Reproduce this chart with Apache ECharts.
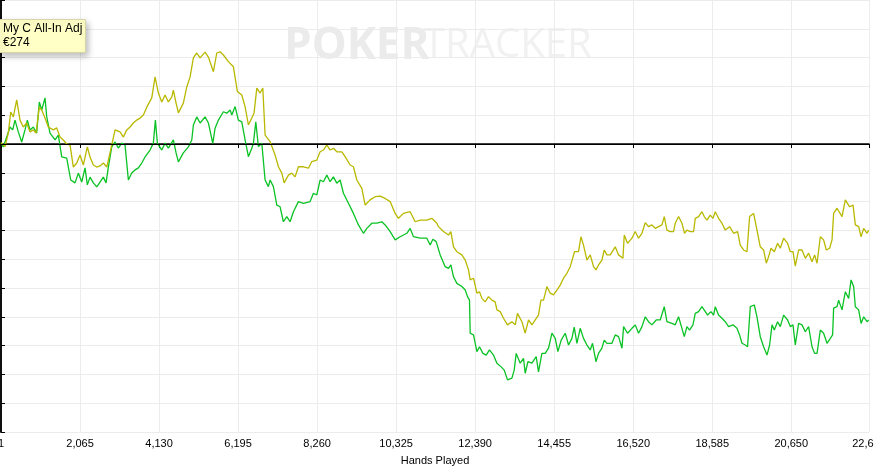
<!DOCTYPE html>
<html>
<head>
<meta charset="utf-8">
<script src="https://cdn.jsdelivr.net/npm/echarts@6/dist/echarts.min.js"></script>
<style>
html,body{margin:0;padding:0;background:#fff;}
#c{width:874px;height:467px;}
</style>
</head>
<body>
<div id="c"></div>
<script>
// X axis
const handsMax = 22681;
const handsStep = 2065;
// All-In Adjusted winnings (yellow)
const allinHands = [0,105,191,254,322,410,497,583,672,758,844,915,1001,1064,1150,1236,1367,1456,1542,1629,1717,1804,1890,1979,2065,2151,2256,2326,2413,2502,2588,2674,2763,2849,2980,3111,3197,3286,3372,3458,3547,3634,3720,3809,3939,4026,4112,4201,4287,4373,4462,4504,4575,4635,4765,4854,4941,5027,5116,5202,5333,5419,5550,5638,5725,5811,5942,6073,6177,6292,6378,6465,6553,6613,6684,6770,6841,6901,7032,7162,7249,7338,7398,7510,7599,7685,7771,7902,8033,8122,8252,8339,8425,8514,8600,8686,8775,8906,8992,9123,9209,9298,9429,9515,9646,9776,9907,10038,10169,10299,10385,10516,10691,10822,10953,11128,11258,11389,11431,11562,11693,11755,11824,11912,12043,12130,12216,12260,12347,12435,12503,12566,12652,12738,12827,12913,12958,13044,13130,13235,13350,13436,13496,13611,13697,13784,13873,13959,14045,14108,14176,14265,14351,14437,14526,14612,14699,14788,14874,14986,15091,15154,15221,15310,15397,15483,15546,15614,15702,15763,15833,15920,16050,16137,16252,16286,16372,16487,16573,16659,16748,16834,16920,17009,17096,17182,17271,17331,17401,17487,17574,17618,17705,17793,17861,17924,18010,18097,18141,18228,18316,18376,18447,18533,18604,18664,18750,18839,18925,19038,19143,19247,19317,19404,19493,19561,19665,19736,19840,19927,19997,20058,20120,20207,20293,20363,20450,20554,20625,20695,20755,20842,20931,21017,21103,21192,21260,21323,21409,21495,21566,21652,21715,21757,21845,21887,21976,22062,22175,22264,22324,22411,22474,22542,22630,22672];
const allinValues = [5,-9,38,111,94,153,83,59,73,42,49,38,128,118,90,59,49,56,24,14,0,-3,-80,-66,-38,-73,-10,-45,-73,-80,-76,-66,-80,-31,49,42,24,49,59,73,83,90,101,128,160,233,177,146,170,146,163,187,142,108,142,198,233,299,316,299,319,302,251,316,320,309,286,268,182,170,130,66,90,108,194,177,194,31,8,-38,-79,-101,-135,-108,-101,-114,-79,-79,-84,-61,-56,-27,-21,-3,-21,-15,-27,-27,-44,-73,-79,-125,-154,-212,-194,-183,-181,-189,-200,-241,-258,-241,-235,-270,-264,-264,-258,-275,-287,-304,-316,-304,-357,-374,-385,-403,-437,-472,-466,-518,-513,-536,-548,-530,-542,-548,-576,-582,-605,-628,-617,-628,-588,-617,-657,-611,-628,-611,-594,-542,-542,-495,-518,-524,-507,-490,-466,-449,-426,-374,-374,-322,-351,-403,-385,-426,-437,-420,-403,-368,-385,-385,-357,-385,-397,-316,-345,-327,-304,-327,-310,-273,-287,-281,-293,-287,-281,-252,-299,-304,-304,-275,-252,-275,-310,-299,-304,-304,-258,-252,-235,-252,-264,-247,-258,-235,-258,-275,-299,-287,-310,-304,-351,-368,-374,-252,-241,-287,-357,-368,-414,-391,-362,-374,-345,-362,-327,-345,-374,-374,-424,-368,-368,-397,-379,-409,-385,-414,-322,-333,-368,-362,-333,-241,-223,-218,-252,-194,-218,-212,-281,-287,-322,-293,-310,-299];
// Actual winnings (green)
const wonHands = [0,60,149,235,306,366,452,541,627,688,758,844,933,1001,1064,1150,1195,1281,1412,1498,1587,1717,1822,1934,2021,2110,2196,2256,2326,2413,2502,2588,2674,2745,2805,2894,2980,3066,3155,3241,3328,3416,3503,3589,3678,3764,3895,3981,4034,4086,4201,4287,4373,4504,4575,4635,4765,4896,4985,5027,5116,5202,5333,5419,5534,5594,5681,5811,5900,5986,6031,6117,6203,6292,6378,6465,6553,6595,6658,6726,6815,6901,6987,7032,7118,7207,7293,7379,7468,7554,7641,7771,7902,8077,8164,8252,8339,8425,8514,8600,8686,8775,8861,8948,9079,9209,9340,9471,9559,9690,9820,9951,10038,10169,10299,10430,10605,10691,10778,10953,11128,11214,11285,11371,11476,11607,11693,11755,11824,11912,12043,12130,12190,12242,12260,12347,12435,12503,12592,12679,12764,12869,12958,13062,13149,13235,13350,13410,13462,13567,13653,13697,13768,13873,13985,14045,14134,14220,14307,14396,14482,14552,14638,14743,14830,14918,14978,15049,15135,15221,15310,15397,15457,15546,15614,15702,15763,15833,15964,16050,16137,16226,16268,16372,16487,16573,16659,16748,16834,16920,17009,17121,17226,17331,17401,17532,17618,17705,17793,17854,17924,17992,18081,18141,18228,18316,18403,18463,18552,18620,18664,18750,18839,18925,19012,19127,19231,19299,19362,19448,19508,19579,19684,19754,19840,19927,20016,20084,20147,20207,20293,20363,20450,20554,20625,20695,20755,20842,20931,21017,21103,21192,21260,21323,21409,21495,21584,21670,21730,21757,21845,21887,21976,22062,22149,22212,22280,22324,22411,22474,22542,22630,22672];
const wonValues = [3,-10,24,59,49,83,42,7,49,83,49,59,38,146,118,160,94,38,14,31,-45,-49,-125,-135,-101,-132,-83,-142,-115,-135,-149,-132,-115,-135,-80,-10,7,-14,3,-3,-125,-101,-90,-83,-66,-45,-21,3,83,3,-21,3,-14,14,-31,-62,-31,-10,14,66,94,73,94,73,2,55,83,112,107,118,101,130,83,77,14,-44,-15,2,77,-9,2,-125,-148,-125,-148,-212,-218,-270,-252,-270,-235,-200,-206,-200,-171,-177,-125,-131,-108,-131,-114,-136,-125,-171,-206,-241,-281,-310,-293,-275,-275,-270,-281,-304,-333,-322,-310,-293,-322,-327,-327,-351,-331,-339,-385,-426,-432,-420,-461,-484,-495,-507,-530,-542,-657,-663,-721,-704,-727,-733,-715,-733,-761,-773,-785,-819,-813,-785,-727,-761,-744,-796,-756,-761,-738,-791,-727,-727,-709,-657,-675,-721,-681,-657,-698,-675,-636,-692,-640,-675,-698,-715,-692,-756,-727,-709,-681,-692,-692,-663,-669,-709,-634,-657,-640,-628,-657,-634,-600,-617,-628,-611,-611,-565,-617,-623,-628,-600,-640,-669,-634,-646,-628,-588,-582,-565,-582,-594,-582,-594,-565,-594,-605,-617,-634,-628,-640,-663,-692,-698,-704,-565,-559,-600,-669,-704,-733,-698,-628,-646,-617,-634,-594,-611,-634,-628,-698,-623,-628,-652,-634,-704,-727,-727,-646,-657,-692,-675,-663,-570,-565,-542,-576,-513,-536,-472,-495,-565,-576,-623,-600,-617,-611];
// Y axis
const yMin = -1000, yMax = 500, yStep = 100;
const tipName = 'My C All-In Adj';
const tipValue = '€274';

const chart = echarts.init(document.getElementById('c'), null, {renderer: 'canvas'});
const zip = (h, v) => h.map((x, i) => [x, v[i]]);
const font = 'Liberation Sans, Arial, sans-serif';

chart.setOption({
  animation: false,
  backgroundColor: '#ffffff',
  grid: {left: 1, right: 5, top: 0, bottom: 35, containLabel: false, outerBoundsMode: 'none'},
  xAxis: {
    type: 'value', min: 0, max: handsMax, interval: handsStep,
    name: 'Hands Played', nameLocation: 'middle', nameGap: 23,
    nameTextStyle: {color: '#000', fontSize: 11, fontFamily: font},
    axisLine: {show: true, lineStyle: {color: '#000', width: 1.5}},
    axisTick: {show: true, length: 4, lineStyle: {color: '#000'}},
    axisLabel: {color: '#000', fontSize: 11, fontFamily: font, margin: 6,
      showMaxLabel: true, showMinLabel: true, hideOverlap: false,
      formatter: v => v === 0 ? '1' : Math.round(v).toLocaleString('en-US')},
    splitLine: {show: true, lineStyle: {color: '#ececec', width: 1}}
  },
  yAxis: [{
    type: 'value', position: 'right', min: yMin, max: yMax, interval: yStep,
    axisLine: {show: true, lineStyle: {color: '#000', width: 1.5}},
    axisTick: {show: true, inside: false, length: 4, lineStyle: {color: '#000'}},
    axisLabel: {show: false},
    splitLine: {show: true, lineStyle: {color: '#ececec', width: 1}}
  }, {
    type: 'value', position: 'left', min: yMin, max: yMax, interval: yStep,
    axisLine: {show: true, onZero: false, lineStyle: {color: '#000', width: 1.5}},
    axisTick: {show: false}, axisLabel: {show: false}, splitLine: {show: false}
  }],
  graphic: [
    {type: 'text', left: 284, top: 24, z: -10, silent: true,
     style: {text: 'POKER', font: 'bold 44px "Open Sans", sans-serif', fill: '#ebebeb'}},
    {type: 'text', left: 423, top: 26, z: -10, silent: true,
     style: {text: 'TRACKER', font: '40px "Open Sans", sans-serif', fill: '#f1f1f1'}},
    {type: 'rect', left: -1, top: 19, z: 100, shape: {width: 86, height: 33},
     style: {fill: '#ffffc6', stroke: '#d6d6a8', lineWidth: 1,
       shadowBlur: 6, shadowOffsetX: 2, shadowOffsetY: 3, shadowColor: 'rgba(0,0,0,0.25)'}},
    {type: 'text', left: 3, top: 22, z: 101,
     style: {text: tipName + '\n' + tipValue, font: '12px Liberation Sans, Arial, sans-serif',
       fill: '#000', lineHeight: 14}}
  ],
  series: [{
    name: 'All-In Adj', type: 'line', data: zip(allinHands, allinValues),
    showSymbol: false, symbol: 'none', lineStyle: {color: '#b9b800', width: 1.3},
    itemStyle: {color: '#b9b800'}, z: 3,
    markLine: {silent: true, symbol: 'none', label: {show: false},
      lineStyle: {color: '#000', width: 1, type: 'solid'}, data: [{yAxis: 0}]}
  }, {
    name: 'Won', type: 'line', data: zip(wonHands, wonValues),
    showSymbol: false, symbol: 'none', lineStyle: {color: '#0ac224', width: 1.3},
    itemStyle: {color: '#0ac224'}, z: 2
  }]
});
</script>
</body>
</html>
